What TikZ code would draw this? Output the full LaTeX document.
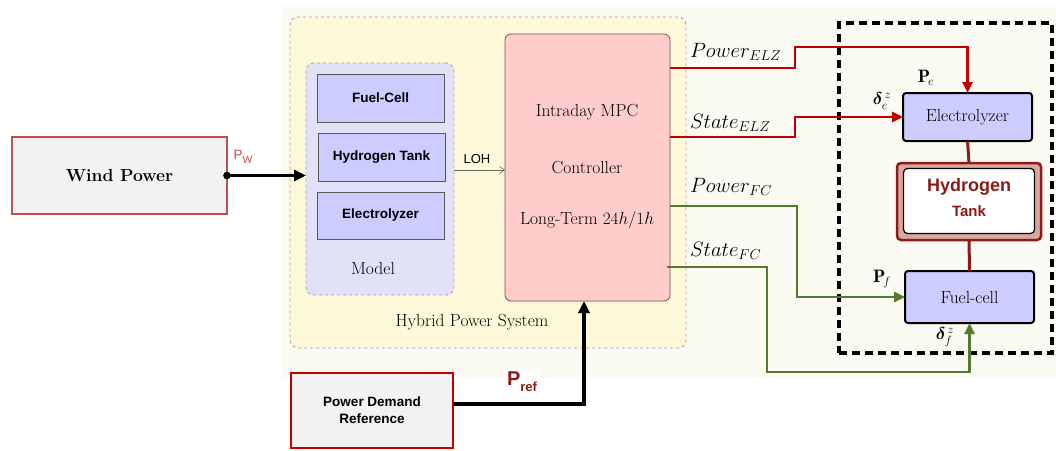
\documentclass[tikz,border=0pt]{standalone}
\usepackage{amsmath,bm}
\usepackage{fontspec}
\newfontfamily\arial{Liberation Sans}
\usetikzlibrary{arrows.meta}
\definecolor{cream}{HTML}{FAFAF3}
\definecolor{hpsyellow}{HTML}{FFF8D8}
\definecolor{dashgray}{HTML}{A0A0A0}
\definecolor{modelfill}{HTML}{E1E1F8}
\definecolor{bluebox}{HTML}{CCCCFF}
\definecolor{mpcfill}{HTML}{FFCCCC}
\definecolor{mpcdraw}{HTML}{7A5050}
\definecolor{wpred}{HTML}{C0504D}
\definecolor{lgray}{HTML}{F2F2F2}
\definecolor{ctrlred}{HTML}{C00000}
\definecolor{tankred}{HTML}{8B1A1A}
\definecolor{tankband}{HTML}{D9A79D}
\definecolor{ctrlgreen}{HTML}{557A2E}
\begin{document}
\begin{tikzpicture}[x=1pt,y=-1pt,
  every node/.style={inner sep=0pt, outer sep=0pt},
  serifbig/.style={font=\fontsize{17.5}{20}\selectfont},
  modelitem/.style={draw=black!65, line width=1pt, fill=bluebox, minimum width=127, minimum height=48, font=\arial\bfseries\fontsize{13.5}{16}\selectfont},
  plantbox/.style={draw=black, line width=2pt, fill=bluebox, rounded corners=3pt, minimum width=129, font=\fontsize{17.5}{20}\selectfont},
  bigarrow/.style={line width=3.5pt, -{Triangle[length=12pt,width=11pt]}},
  redarrow/.style={draw=ctrlred, line width=2.5pt, -{Triangle[length=11pt,width=10pt]}},
  greenarrow/.style={draw=ctrlgreen, line width=2.5pt, -{Triangle[length=11pt,width=10pt]}},
  tankline/.style={draw=tankred, line width=3pt},
  siglabel/.style={anchor=west, font=\fontsize{20}{22}\selectfont},
]
\useasboundingbox (0,0) rectangle (1056,450);
\fill[cream] (282,5) rectangle (1056,378);

% Hybrid power system
\node[draw=dashgray, dashed, line width=0.8pt, fill=hpsyellow, rounded corners=8pt, minimum width=396, minimum height=331] (hps) at (488,182.5) {};
\node[serifbig] (hpslabel) at (472,322) {Hybrid Power System};

% Model
\node[draw=dashgray, dashed, line width=0.8pt, fill=modelfill, rounded corners=8pt, minimum width=148, minimum height=232] (model) at (380,179) {};
\node[modelitem] (mfc) at (380.5,98) {Fuel-Cell};
\node[modelitem] (mht) at (381.5,157) {Hydrogen Tank};
\node[modelitem, minimum height=47] (mel) at (380.5,215.5) {Electrolyzer};
\node[serifbig] (modellabel) at (373,268) {Model};

% MPC
\node[draw=mpcdraw, line width=0.8pt, fill=mpcfill, rounded corners=6pt, minimum width=165, minimum height=267] (mpc) at (587.5,167.5) {};
\node[serifbig] (mpc1) at (587,112) {Intraday MPC};
\node[serifbig] (mpc2) at (587,168) {Controller};
\node[serifbig] (mpc3) at (587,220) {Long-Term $24h/1h$};

% LOH
\coordinate (lohy) at (0,170);
\draw[black!60, line width=0.6pt, -{Straight Barb[length=5pt,width=7pt]}] (model.east |- lohy) -- (mpc.west |- lohy);
\node[font=\arial\fontsize{13}{15}\selectfont] (loh) at (477,159) {LOH};

% Wind power
\node[draw=wpred, line width=2.5pt, fill=lgray, minimum width=215, minimum height=77, font=\bfseries\fontsize{17.5}{20}\selectfont] (wind) at (119.5,175.5) {Wind Power};
\fill (wind.east) circle (3.8pt);
\draw[bigarrow] (wind.east) -- (wind.east -| model.west);
\node[text=wpred, font=\arial\fontsize{13.5}{15}\selectfont] (pw) at (243,157) {P\raisebox{-4pt}{\fontsize{10.5}{10}\selectfont W}};

% Controlled plant
\node[draw=black, line width=4pt, dash pattern=on 8pt off 5pt, minimum width=213, minimum height=330] (plant) at (945.5,188) {};
\node[plantbox, minimum height=48] (elz) at (967.5,117) {Electrolyzer};
\node[draw=tankred, line width=2.5pt, fill=tankband, rounded corners=4pt, minimum width=144, minimum height=77] (tank) at (969,201.5) {};
\node[draw=black, line width=1.2pt, fill=white, rounded corners=4pt, minimum width=131, minimum height=65] (tankin) at (969,201) {};
\node[text=tankred, font=\arial\bfseries\fontsize{18}{20}\selectfont] (tank1) at (969,187) {Hydrogen};
\node[text=tankred, font=\arial\bfseries\fontsize{15}{18}\selectfont] (tank2) at (969,211) {Tank};
\node[plantbox, minimum height=52] (fc) at (969.5,297) {Fuel-cell};
\draw[tankline] (elz.south) -- (tank.north);
\draw[tankline] (tank.south) -- (fc.north);

% Control signals
\coordinate (y68) at (0,68);
\coordinate (y137) at (0,137);
\coordinate (y206) at (0,206);
\coordinate (y267) at (0,267);
\draw[redarrow] (mpc.east |- y68) -- (795,68) -- (795,47) -| (elz.north);
\draw[redarrow] (mpc.east |- y137) -- (795,137) |- (elz.west);
\draw[greenarrow] (mpc.east |- y206) -- (797,206) |- (fc.west);
\draw[greenarrow] ([xshift=-3pt]mpc.east |- y267) -- (767,267) -- (767,372) -| (fc.south);

\node[siglabel] (lpe) at (690,52) {$Power_{ELZ}$};
\node[siglabel] (lse) at (690,123) {$State_{ELZ}$};
\node[siglabel] (lpf) at (690,187) {$Power_{FC}$};
\node[siglabel] (lsf) at (690,251) {$State_{FC}$};

\node[font=\fontsize{18}{20}\selectfont] (pe) at (926,78) {$\mathbf{P}_{\!e}$};
\node[font=\fontsize{18}{20}\selectfont] (de) at (882,101) {$\bm{\delta}_e^{\,z}$};
\node[font=\fontsize{18}{20}\selectfont] (pf) at (882,279) {$\mathbf{P}_{\!f}$};
\node[font=\fontsize{18}{20}\selectfont] (df) at (945,337) {$\bm{\delta}_f^{\,z}$};

% Power demand reference
\node[draw=ctrlred, line width=2.5pt, fill=lgray, minimum width=162, minimum height=75, align=center, font=\arial\bfseries\fontsize{13.5}{17}\selectfont] (pd) at (372,410.5) {Power Demand\\Reference};
\coordinate (pdturn) at (584,404);
\draw[bigarrow] (pd.east |- pdturn) -- (pdturn) -- (pdturn |- mpc.south);
\node[fill=white, inner sep=3pt, text=tankred, font=\arial\bfseries\fontsize{20}{20}\selectfont] (pref) at (522,382) {P\raisebox{-6pt}{\fontsize{13}{13}\selectfont ref}};
\end{tikzpicture}
\end{document}
